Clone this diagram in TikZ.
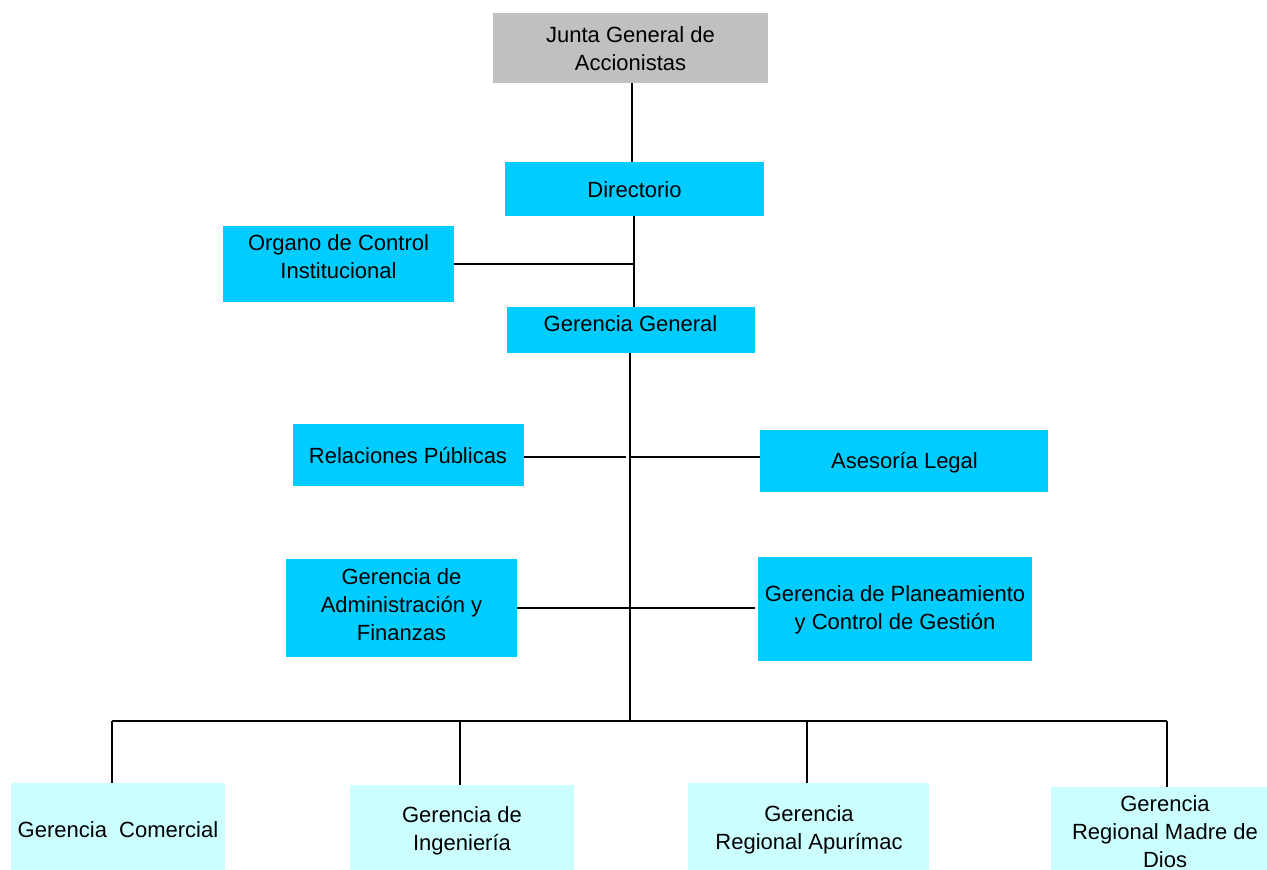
\documentclass[tikz,border=0pt]{standalone}
\usepackage{fontspec}
\setmainfont{Liberation Sans}
\definecolor{cyanA}{HTML}{00CCFF}
\definecolor{cyanB}{HTML}{CCFFFF}
\definecolor{grayA}{HTML}{C0C0C0}
\begin{document}
\begin{tikzpicture}[x=1pt,y=-1pt,
  box/.style={rectangle, inner sep=0pt, outer sep=0pt, draw=none},
  cbox/.style={box, fill=cyanA},
  lbox/.style={box, fill=cyanB},
  gbox/.style={box, fill=grayA},
  txt/.style={align=center, inner sep=0pt, yshift=-1.5pt, font=\fontsize{22}{28}\selectfont},
  conn/.style={line width=2pt, draw=black}]
\useasboundingbox (0,0) rectangle (1267,870);
\clip (0,0) rectangle (1267,870);
% boxes
\node[gbox, minimum width=275pt, minimum height=70pt] (junta) at (630.5,48) {};
\node[cbox, minimum width=259pt, minimum height=54pt] (dir) at (634.5,189) {};
\node[cbox, minimum width=231pt, minimum height=76pt] (oci) at (338.5,264) {};
\node[cbox, minimum width=248pt, minimum height=46pt] (gg) at (631,330) {};
\node[cbox, minimum width=231pt, minimum height=62pt] (rp) at (408.5,455) {};
\node[cbox, minimum width=288pt, minimum height=62pt] (al) at (904,461) {};
\node[cbox, minimum width=231pt, minimum height=98pt] (adm) at (401.5,608) {};
\node[cbox, minimum width=274pt, minimum height=104pt] (plan) at (895,609) {};
\node[lbox, minimum width=214pt, minimum height=92pt] (com) at (118,829) {};
\node[lbox, minimum width=224pt, minimum height=90pt] (ing) at (462,830) {};
\node[lbox, minimum width=241pt, minimum height=92pt] (apu) at (808.5,829) {};
\node[lbox, minimum width=229pt, minimum height=88pt] (mdd) at (1165.5,831) {};
% texts
\node[txt] (juntaT) at (630.5,47) {Junta General de\\Accionistas};
\node[txt] (dirT) at (634.5,188) {Directorio};
\node[txt] (ociT) at (338.5,255) {Organo de Control\\Institucional};
\node[txt] (ggT) at (630.5,322) {Gerencia General};
\node[txt] (rpT) at (408,454) {Relaciones Públicas};
\node[txt] (alT) at (904.5,461.5) {Asesoría Legal};
\node[txt] (admT) at (401.5,603) {Gerencia de\\Administración y\\Finanzas};
\node[txt] (planT) at (895,608.5) {Gerencia de Planeamiento\\y Control de Gestión};
\node[txt] (comT) at (118,828) {Gerencia\ \ Comercial};
\node[txt] (ingT) at (462,829.5) {Gerencia de\\Ingeniería};
\node[txt] (apuT) at (809,828.5) {Gerencia\\Regional Apurímac};
\node[txt] (mddT) at (1165,830) {Gerencia\\Regional Madre de\\Dios};
% junction coordinates
\coordinate (jL) at (626,457);
\coordinate (jR) at (631,457);
\coordinate (bus) at (630,721);
\coordinate (d1) at (112,721);
\coordinate (d2) at (460,721);
\coordinate (d3) at (807,721);
\coordinate (d4) at (1167,721);
% connectors
\draw[conn] (junta.south -| 632,0) -- (dir.north -| 632,0);
\draw[conn] (dir.south -| 634,0) -- (gg.north -| 634,0);
\draw[conn] (oci.east) -- (oci.east -| 633,0);
\draw[conn] (gg.south -| bus) -- (bus);
\draw[conn] (rp.east |- jL) -- (jL);
\draw[conn] (jR) -- (jR -| al.west);
\draw[conn] (adm.east) -- ([xshift=-3pt]adm.east -| plan.west);
\draw[conn] (d1) -- (d4);
\draw[conn] (d1) -- (d1 |- com.north);
\draw[conn] (d2) -- (d2 |- ing.north);
\draw[conn] (d3) -- (d3 |- apu.north);
\draw[conn] (d4) -- (d4 |- mdd.north);
\end{tikzpicture}
\end{document}
